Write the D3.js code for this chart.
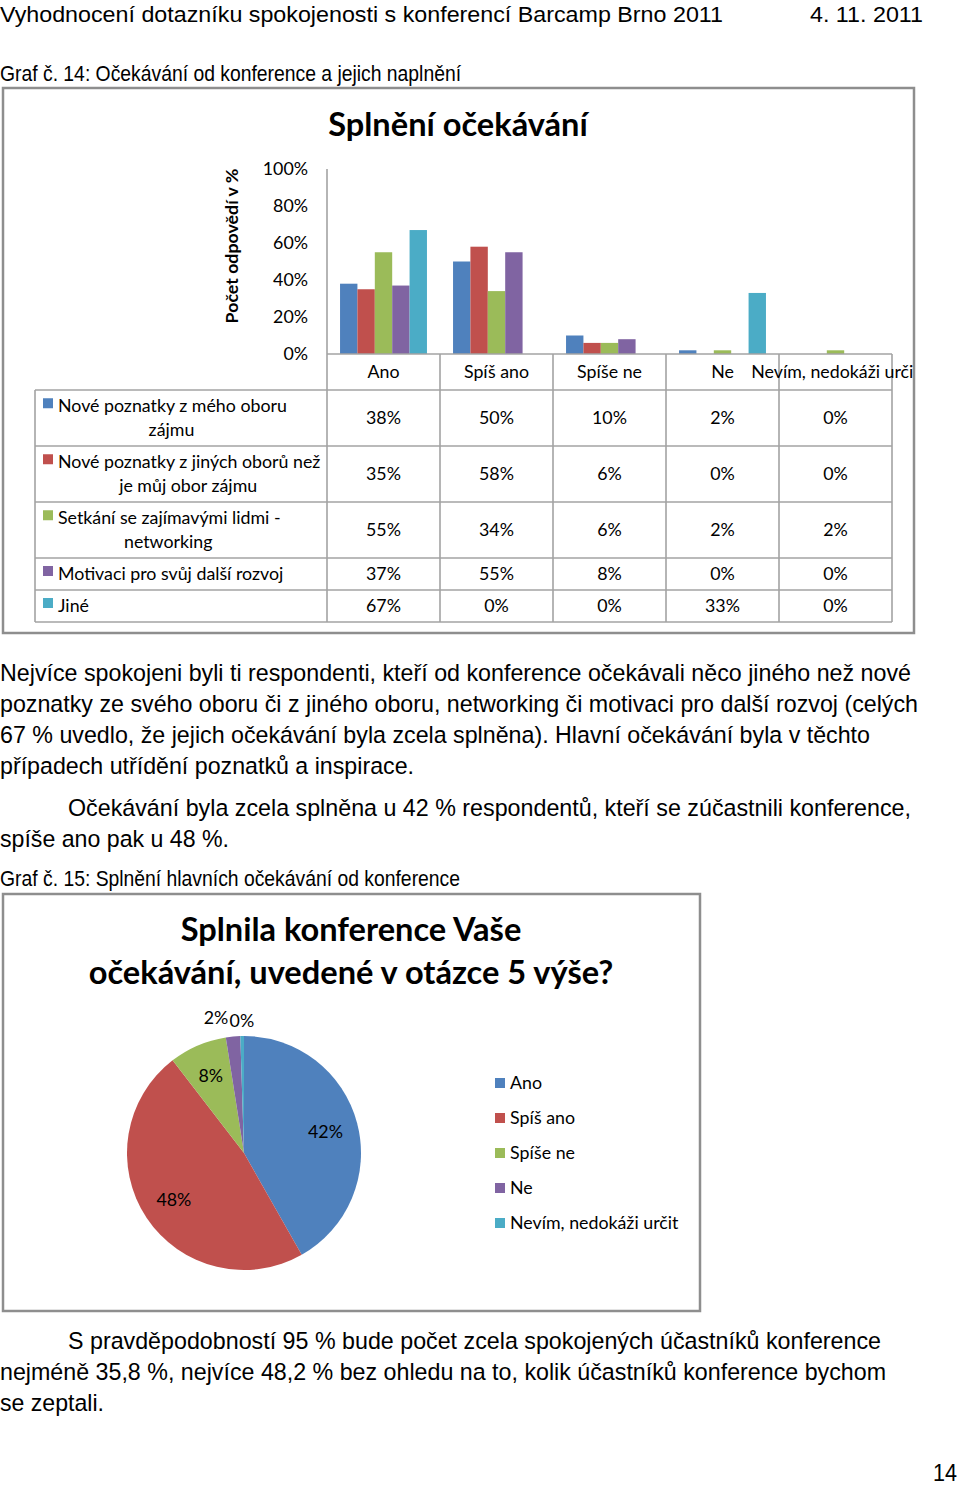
<!DOCTYPE html>
<html><head><meta charset="utf-8">
<script src="https://cdn.jsdelivr.net/npm/d3@7"></script>
<style>body{margin:0;background:#fff}svg{display:block}</style>
</head><body>
<script>
// ---------- data ----------
const barCategories = ["Ano", "Spíš ano", "Spíše ne", "Ne", "Nevím, nedokáži určit"];
const seriesNames = [
  ["Nové poznatky z mého oboru", "zájmu"],
  ["Nové poznatky z jiných oborů než", "je můj obor zájmu"],
  ["Setkání se zajímavými lidmi -", "networking"],
  ["Motivaci pro svůj další rozvoj"],
  ["Jiné"]
];
const seriesMyField = [38, 50, 10, 2, 0];
const seriesOtherFields = [35, 58, 6, 0, 0];
const seriesNetworking = [55, 34, 6, 2, 2];
const seriesMotivation = [37, 55, 8, 0, 0];
const seriesOther = [67, 0, 0, 33, 0];
const yTicks = [0, 20, 40, 60, 80, 100];
const seriesColors = ["#4F81BD", "#C0504D", "#9BBB59", "#8064A2", "#4BACC6"];

const pieCategories = ["Ano", "Spíš ano", "Spíše ne", "Ne", "Nevím, nedokáži určit"];
const pieValues = [42, 48, 8, 2, 0.5];
const pieLabels = ["42%", "48%", "8%", "2%", "0%"];

const headerTitle = "Vyhodnocení dotazníku spokojenosti s konferencí Barcamp Brno 2011";
const headerDate = "4. 11. 2011";
const caption1 = "Graf č. 14: Očekávání od konference a jejich naplnění";
const caption2 = "Graf č. 15: Splnění hlavních očekávání od konference";
const chart1Title = "Splnění očekávání";
const chart1YTitle = "Počet odpovědí v %";
const chart2Title = ["Splnila konference Vaše", "očekávání, uvedené v otázce 5 výše?"];
const para1 = [
  "Nejvíce spokojeni byli ti respondenti, kteří od konference očekávali něco jiného než nové",
  "poznatky ze svého oboru či z jiného oboru, networking či motivaci pro další rozvoj (celých",
  "67 % uvedlo, že jejich očekávání byla zcela splněna). Hlavní očekávání byla v těchto",
  "případech utřídění poznatků a inspirace."
];
const para2 = [
  "Očekávání byla zcela splněna u 42 % respondentů, kteří se zúčastnili konference,",
  "spíše ano pak u 48 %."
];
const para3 = [
  "S pravděpodobností 95 % bude počet zcela spokojených účastníků konference",
  "nejméně 35,8 %, nejvíce 48,2 % bez ohledu na to, kolik účastníků konference bychom",
  "se zeptali."
];
const pageNumber = "14";

// ---------- setup ----------
const W = 960, H = 1485;
const svg = d3.select("body").append("svg").attr("width", W).attr("height", H);
const pageFont = "'Liberation Sans', Arial, sans-serif";
const chartFont = "Lato, 'Open Sans', sans-serif";
const CF = 17.8;      // chart text size
const TF = 32.6;      // chart title size
const VS = 1.093;     // vertical stretch of the page text

function pageText(str, x, baseline, size, width) {
  const t = svg.append("text")
    .attr("transform", `translate(${x},${baseline}) scale(1,${VS})`)
    .attr("font-family", pageFont).attr("font-size", size).attr("fill", "#000")
    .text(str);
  if (width) t.attr("textLength", width).attr("lengthAdjust", "spacingAndGlyphs");
  return t;
}

// page header & captions
pageText(headerTitle, 0, 21.5, 21, 723);
pageText(headerDate, 810, 21.5, 21, 113);
pageText(caption1, 0, 81, 19.4, 461);

// ---------- chart 1 ----------
const series = [seriesMyField, seriesOtherFields, seriesNetworking, seriesMotivation, seriesOther];
const g1 = svg.append("g");
g1.append("rect").attr("x", 3).attr("y", 88).attr("width", 911).attr("height", 545)
  .attr("fill", "#fff").attr("stroke", "#8e8e8e").attr("stroke-width", 2.5);
svg.append("clipPath").attr("id", "c1clip").append("rect")
  .attr("x", 4).attr("y", 89).attr("width", 909).attr("height", 543);

const x = d3.scaleBand().domain(barCategories).range([327, 892]).paddingInner(0).paddingOuter(0);
const xs = d3.scaleBand().domain(d3.range(series.length)).range([0, x.bandwidth()]).paddingInner(0).paddingOuter(0.75);
const y = d3.scaleLinear().domain([0, 100]).range([354, 169]);

g1.append("text").attr("x", 458).attr("y", 136).attr("text-anchor", "middle")
  .attr("font-family", chartFont).attr("font-weight", 700).attr("font-size", TF).attr("fill", "#000")
  .text(chart1Title);

g1.append("text").attr("transform", "translate(238,246) rotate(-90)").attr("text-anchor", "middle")
  .attr("font-family", chartFont).attr("font-weight", 700).attr("font-size", CF).attr("fill", "#000")
  .text(chart1YTitle);

const yAxis = g1.append("g").attr("transform", "translate(327,0)")
  .call(d3.axisLeft(y).tickValues(yTicks).tickSize(0).tickPadding(19).tickFormat(d => d + "%"));
yAxis.select(".domain").remove();
yAxis.selectAll("text").attr("font-family", chartFont).attr("font-size", CF).attr("fill", "#000");

// bars
series.forEach((vals, si) => {
  g1.append("g").selectAll("rect").data(vals).join("rect")
    .attr("x", (d, i) => x(barCategories[i]) + xs(si))
    .attr("width", xs.bandwidth())
    .attr("y", d => y(d))
    .attr("height", d => y(0) - y(d))
    .attr("fill", seriesColors[si]);
});

// data table
const gridColor = "#a3a3a3";
const rowHeights = seriesNames.map(n => n.length > 1 ? 56 : 32);
const rowTops = [390];
rowHeights.forEach((h, i) => rowTops.push(rowTops[i] + h));
const tableBottom = rowTops[rowTops.length - 1];
const tableLeft = 35;
const grid = g1.append("g").attr("stroke", gridColor).attr("stroke-width", 1.6);
rowTops.forEach(t => grid.append("line").attr("x1", tableLeft).attr("x2", 892).attr("y1", t).attr("y2", t));
grid.append("line").attr("x1", 327).attr("x2", 892).attr("y1", y(0)).attr("y2", y(0));
grid.append("line").attr("x1", tableLeft).attr("x2", tableLeft).attr("y1", 390).attr("y2", tableBottom);
grid.append("line").attr("x1", 327).attr("x2", 327).attr("y1", y(100)).attr("y2", tableBottom);
barCategories.forEach(c => {
  const xe = x(c) + x.bandwidth();
  grid.append("line").attr("x1", xe).attr("x2", xe).attr("y1", y(0)).attr("y2", tableBottom);
});

// category labels (header row)
g1.append("g").attr("clip-path", "url(#c1clip)").selectAll("text").data(barCategories).join("text")
  .attr("x", d => x(d) + x.bandwidth() / 2).attr("y", 372).attr("dy", "0.35em")
  .attr("text-anchor", "middle").attr("font-family", chartFont).attr("font-size", CF).attr("fill", "#000")
  .text(d => d);

// series label cells + values
seriesNames.forEach((lines, si) => {
  const top = rowTops[si], h = rowHeights[si];
  const cy = top + h / 2;
  const lineGap = 23.5;
  const y0 = cy - (lines.length - 1) * lineGap / 2;
  g1.append("rect").attr("x", 43).attr("y", y0 - 8).attr("width", 10).attr("height", 10)
    .attr("fill", seriesColors[si]);
  const t1 = g1.append("text").attr("x", 58).attr("y", y0).attr("dy", "0.35em")
    .attr("font-family", chartFont).attr("font-size", CF).attr("fill", "#000").text(lines[0]);
  if (lines.length > 1) {
    const w1 = t1.node().getComputedTextLength();
    const c2 = (43 + 58 + w1) / 2 + 6.5;
    g1.append("text").attr("x", c2).attr("y", y0 + lineGap).attr("dy", "0.35em").attr("text-anchor", "middle")
      .attr("font-family", chartFont).attr("font-size", CF).attr("fill", "#000").text(lines[1]);
  }
  g1.append("g").selectAll("text").data(series[si]).join("text")
    .attr("x", (d, i) => x(barCategories[i]) + x.bandwidth() / 2).attr("y", cy).attr("dy", "0.35em")
    .attr("text-anchor", "middle").attr("font-family", chartFont).attr("font-size", CF).attr("fill", "#000")
    .text(d => d + "%");
});

// ---------- body text ----------
const p1Widths = [911, 918, 870, 414];
para1.forEach((s, i) => pageText(s, 0, 681 + i * 31, 22.6, p1Widths[i]));
pageText(para2[0], 68, 816, 22.6, 843);
pageText(para2[1], 0, 847, 22.6, 229);
pageText(caption2, 0, 886, 19.4, 460);
const p3 = [[68, 813], [0, 886], [0, 104]];
para3.forEach((s, i) => pageText(s, p3[i][0], 1349 + i * 31, 22.6, p3[i][1]));
pageText(pageNumber, 933, 1481, 21.5, 24);

// ---------- chart 2 ----------
const g2 = svg.append("g");
g2.append("rect").attr("x", 3).attr("y", 894).attr("width", 697).attr("height", 417)
  .attr("fill", "#fff").attr("stroke", "#8e8e8e").attr("stroke-width", 2.5);
chart2Title.forEach((s, i) => g2.append("text").attr("x", 351).attr("y", 941 + i * 43)
  .attr("text-anchor", "middle").attr("font-family", chartFont).attr("font-weight", 700)
  .attr("font-size", TF).attr("fill", "#000").text(s));

const cx = 244, cy2 = 1153, R = 117;
const pie = d3.pie().sort(null).value(d => d)(pieValues);
const arc = d3.arc().innerRadius(0).outerRadius(R);
const pg = g2.append("g").attr("transform", `translate(${cx},${cy2})`);
pg.selectAll("path").data(pie).join("path").attr("d", arc).attr("fill", (d, i) => seriesColors[i]);

const inArc = d3.arc().innerRadius(R * 0.72).outerRadius(R * 0.72);
const outArc = d3.arc().innerRadius(R * 1.16).outerRadius(R * 1.16);
pie.forEach((d, i) => {
  const inside = (d.endAngle - d.startAngle) > 0.3;
  const c = inside ? inArc.centroid(d) : outArc.centroid(d);
  let anchor = "middle", dx = 0;
  if (!inside && i === 3) { anchor = "end"; dx = -3; }
  if (!inside && i === 4) { c[1] += 3; }
  pg.append("text").attr("x", c[0] + dx).attr("y", c[1]).attr("dy", "0.35em").attr("text-anchor", anchor)
    .attr("font-family", chartFont).attr("font-size", CF).attr("fill", "#000").text(pieLabels[i]);
});

const lg = g2.append("g");
pieCategories.forEach((c, i) => {
  const yy = 1083 + i * 35;
  lg.append("rect").attr("x", 495).attr("y", yy - 5).attr("width", 10).attr("height", 10).attr("fill", seriesColors[i]);
  lg.append("text").attr("x", 510).attr("y", yy).attr("dy", "0.35em")
    .attr("font-family", chartFont).attr("font-size", CF).attr("fill", "#000").text(c);
});
</script>
</body></html>
